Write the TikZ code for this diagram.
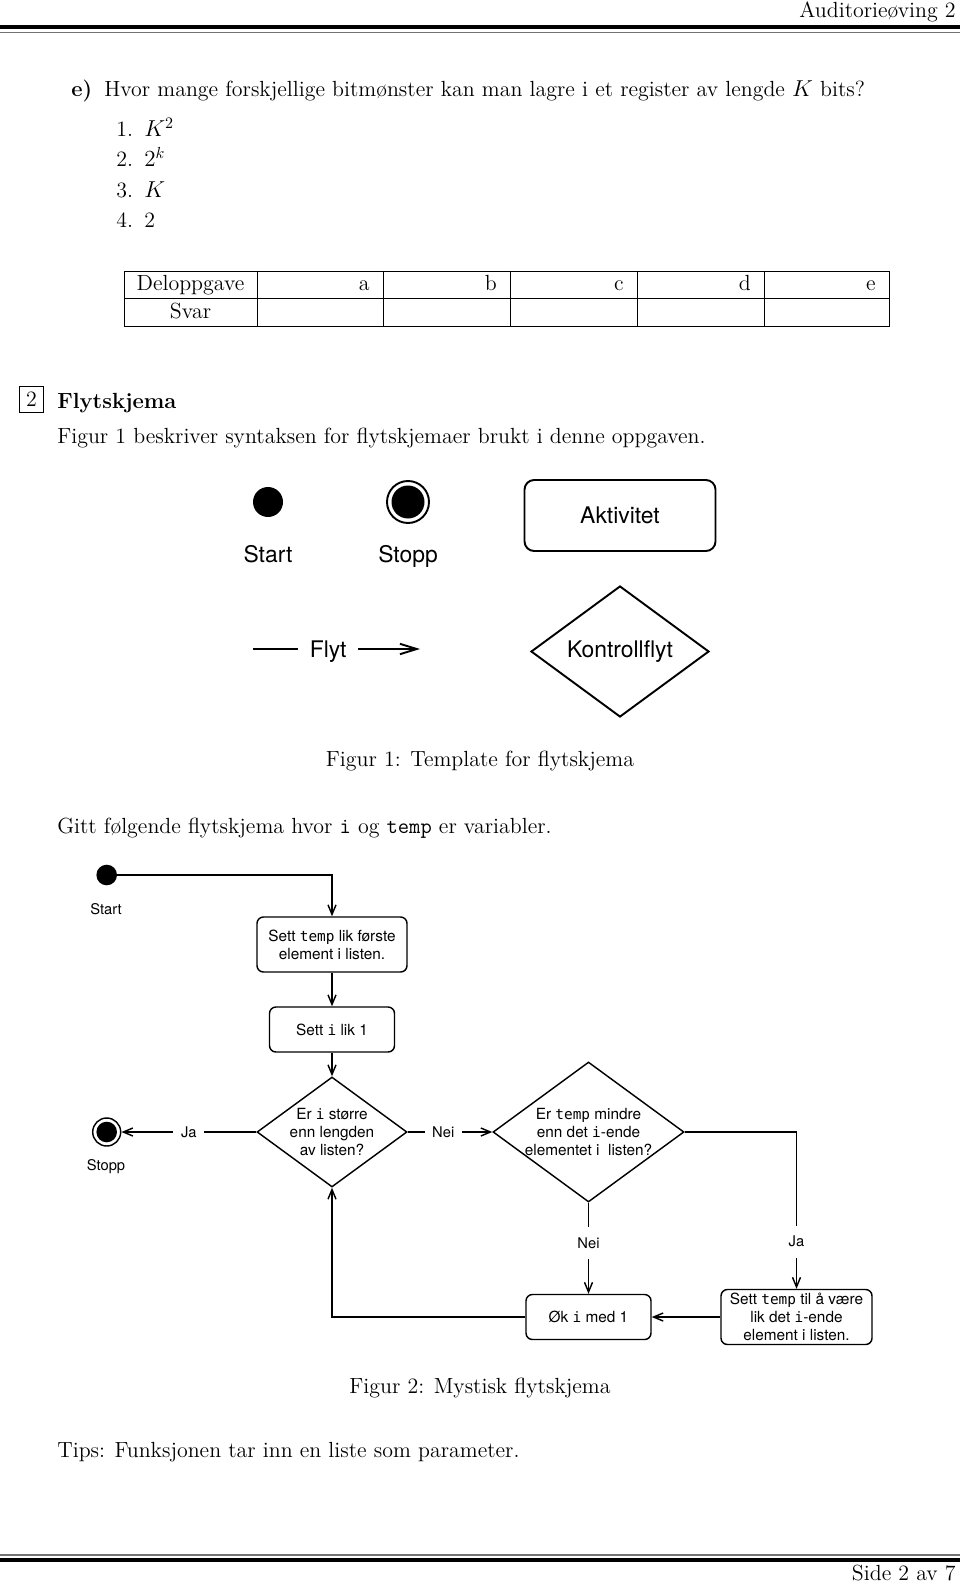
\documentclass[tikz,border=0pt]{standalone}
\usepackage{fontspec}
\newfontfamily\figsans{TeX Gyre Heros}
\newfontfamily\figmono{DejaVu Sans Mono}
\usetikzlibrary{shapes.geometric,arrows.meta}
\def\u{0.625pt}
\newcommand\fm[1]{{\figmono\fontsize{9}{11.2}\selectfont #1}}
\begin{document}
\begin{tikzpicture}[x=0.625pt,y=-0.625pt,
  body/.style={font=\fontsize{13.7}{16.5}\selectfont, inner sep=0pt, anchor=base west},
  fone/.style={font=\figsans\fontsize{14.3}{17}\selectfont},
  ftwo/.style={font=\figsans\fontsize{9.2}{11.2}\selectfont},
  fbox/.style={font=\figsans\fontsize{9.6}{11.2}\selectfont},
  tabline/.style={line width=0.5pt},
  rule/.style={line width=2.5pt},
  thinrule/.style={line width=0.8pt, black!55},
  actone/.style={draw, line width=1.2pt, rounded corners=6pt, inner sep=0pt, fone, align=center},
  diaone/.style={draw, line width=1.2pt, shape=diamond, inner sep=0pt},
  flowone/.style={line width=1.2pt, -{Straight Barb[length=10.5pt,width=6.5pt]}},
  dotone/.style={circle, fill, inner sep=0pt, minimum size=30*\u},
  stopone/.style={circle, draw, line width=1.2pt, inner sep=0pt, minimum size=42*\u},
  acttwo/.style={draw, line width=0.9pt, rounded corners=4pt, inner sep=0pt, fbox, align=center},
  diatwo/.style={draw, line width=0.9pt, shape=diamond, inner sep=0pt},
  flowtwo/.style={line width=0.9pt, -{Straight Barb[length=6pt,width=5pt]}},
  dottwo/.style={circle, fill, inner sep=0pt, minimum size=20.6*\u},
  stoptwo/.style={circle, draw, line width=0.9pt, inner sep=0pt, minimum size=28*\u},
  labh/.style={ftwo, fill=white, inner xsep=4.8pt, inner ysep=1pt},
  labv/.style={ftwo, fill=white, inner xsep=1pt, inner ysep=6.4pt},
]
\fill[white] (0,0) rectangle (960,1585);
\useasboundingbox (0,0) rectangle (960,1585);

% header
\node[body, anchor=base east] (hdr) at (956,18) {Auditorieøving 2};
\draw[rule] (0,27.5) coordinate (hr1a) -- (960,27.5) coordinate (hr1b);
\draw[thinrule] (0,32.7) coordinate (hr2a) -- (960,32.7) coordinate (hr2b);

% question e
\node[body] (qe) at (71,97) {\textbf{e)}};
\node[body] (qtext) at (104,97) {Hvor mange forskjellige bitmønster kan man lagre i et register av lengde $K$ bits?};
\node[body] (n1) at (116,137) {1.};
\node[body] (i1) at (144,137) {$K^2$};
\node[body] (n2) at (116,167) {2.};
\node[body] (i2) at (144,167) {$2^k$};
\node[body] (n3) at (116,198) {3.};
\node[body] (i3) at (144,198) {$K$};
\node[body] (n4) at (116,228) {4.};
\node[body] (i4) at (144,228) {2};

% table
\draw[tabline] (124,271) rectangle (889,326);
\draw[tabline] (124,298.5) -- (889,298.5);
\foreach \cx in {257,383,510,637,764} {\draw[tabline] (\cx,271) -- (\cx,326);}
\node[body, anchor=base] (tdel) at (190.5,291) {Deloppgave};
\node[body, anchor=base east] (ta) at (370,291) {a};
\node[body, anchor=base east] (tb) at (497,291) {b};
\node[body, anchor=base east] (tc) at (624,291) {c};
\node[body, anchor=base east] (td) at (751,291) {d};
\node[body, anchor=base east] (te) at (876,291) {e};
\node[body, anchor=base] (tsvar) at (190.5,319) {Svar};

% section
\node[draw, line width=0.5pt, minimum width=24*\u, minimum height=26*\u, inner sep=0pt, font=\fontsize{13.7}{16.5}\selectfont] (secnum) at (31.5,399) {2};
\node[body] (sectitle) at (57,408) {\textbf{Flytskjema}};
\node[body] (intro) at (57,443) {Figur 1 beskriver syntaksen for flytskjemaer brukt i denne oppgaven.};

% figure 1
\node[dotone] (start1) at (268,502) {};
\node[fone, anchor=base, inner sep=0pt] (lstart1) at (268,562) {Start};
\node[stopone] (stop1) at (408,502) {};
\fill (stop1.center) circle[radius=16.5];
\node[fone, anchor=base, inner sep=0pt] (lstop1) at (408,562) {Stopp};
\node[actone, minimum width=191*\u, minimum height=71*\u] (akt) at (620,515.5) {Aktivitet};
\coordinate (fa) at (253,649);
\coordinate (fb) at (420,649);
\draw[flowone] (fa) -- node[pos=0.45, fone, fill=white, inner xsep=7.2pt, inner ysep=1pt, text depth=0pt] (flyt) {Flyt} (fb);
\node[diaone, minimum width=178*\u, minimum height=131*\u] (kf) at (620,651.5) {};
\node[fone] (kft) at (kf.center) {Kontrollflyt};
\node[body, anchor=base] (cap1) at (480,766) {Figur 1: Template for flytskjema};

\node[body] (gitt) at (57,833) {Gitt følgende flytskjema hvor \texttt{i} og \texttt{temp} er variabler.};

% figure 2
\node[dottwo] (start2) at (106.7,875) {};
\node[ftwo, anchor=base, inner sep=0pt] (lstart2) at (106,914) {Start};
\node[acttwo, minimum width=150*\u, minimum height=55*\u] (b1) at (332,944.5) {Sett \fm{temp} lik første\\element i listen.};
\node[acttwo, minimum width=125*\u, minimum height=45*\u] (b2) at (332,1029.5) {Sett \fm{i} lik 1};
\node[diatwo, minimum width=150*\u, minimum height=110*\u] (d1) at (332,1132) {};
\node[fbox, align=center] (d1t) at (d1.center) {Er \fm{i} større\\enn lengden\\av listen?};
\node[stoptwo] (stop2) at (106.7,1132) {};
\fill (stop2.center) circle[radius=10.3];
\node[ftwo, anchor=base, inner sep=0pt] (lstop2) at (106,1170) {Stopp};
\node[diatwo, minimum width=191*\u, minimum height=140*\u] (d2) at (588.5,1132) {};
\node[fbox, align=center] (d2t) at (d2.center) {Er \fm{temp} mindre\\enn det \fm{i}-ende\\elementet i\ \ listen?};
\node[acttwo, minimum width=125*\u, minimum height=45*\u] (b4) at (588.5,1317) {Øk \fm{i} med 1};
\node[acttwo, minimum width=151*\u, minimum height=55*\u] (b3) at (796.5,1317) {Sett \fm{temp} til å være\\lik det \fm{i}-ende\\element i listen.};

\draw[flowtwo] (start2) -| (b1);
\draw[flowtwo] (b1) -- (b2);
\draw[flowtwo] (b2) -- (d1);
\draw[flowtwo] (d1) -- node[labh] (lja1) {Ja} (stop2);
\draw[flowtwo] (d1) -- node[labh, pos=0.42] (lnei1) {Nei} (d2);
\draw[flowtwo] (d2) -- node[labv, pos=0.44] (lnei2) {Nei} (b4);
\draw[flowtwo] (d2) -| node[labv, pos=0.85] (lja2) {Ja} (b3);
\draw[flowtwo] (b3) -- (b4);
\draw[flowtwo] (b4) -| (d1);

\node[body, anchor=base] (cap2) at (480,1393) {Figur 2: Mystisk flytskjema};
\node[body] (tips) at (57,1457) {Tips: Funksjonen tar inn en liste som parameter.};

% footer
\draw[thinrule] (0,1555) coordinate (fr1a) -- (960,1555) coordinate (fr1b);
\draw[rule] (0,1560) coordinate (fr2a) -- (960,1560) coordinate (fr2b);
\node[body, anchor=base east] (ftr) at (956,1580) {Side 2 av 7};
\end{tikzpicture}
\end{document}
